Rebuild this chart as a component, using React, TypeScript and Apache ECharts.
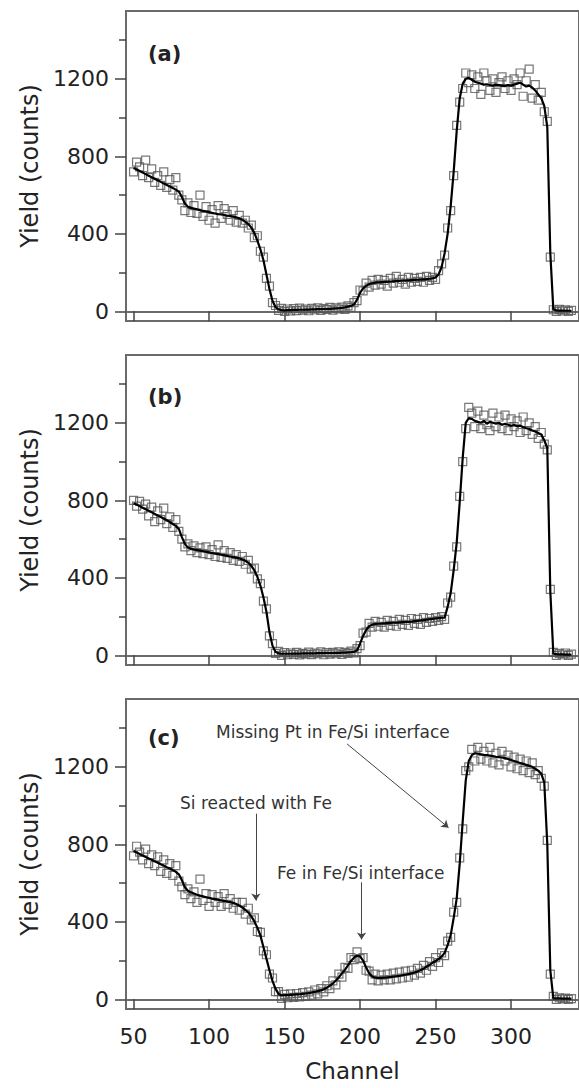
import React, { useEffect, useRef } from "react";
import * as echarts from "echarts";

// Channel numbers (x values)
const channels = [
  50, 52, 54, 56, 58, 60, 62, 64, 66, 68,
  70, 72, 74, 76, 78, 80, 82, 84, 86, 88,
  90, 92, 94, 96, 98, 100, 102, 104, 106, 108,
  110, 112, 114, 116, 118, 120, 122, 124, 126, 128,
  130, 132, 134, 136, 138, 140, 142, 144, 146, 148,
  150, 152, 154, 156, 158, 160, 162, 164, 166, 168,
  170, 172, 174, 176, 178, 180, 182, 184, 186, 188,
  190, 192, 194, 196, 198, 200, 202, 204, 206, 208,
  210, 212, 214, 216, 218, 220, 222, 224, 226, 228,
  230, 232, 234, 236, 238, 240, 242, 244, 246, 248,
  250, 252, 254, 256, 258, 260, 262, 264, 266, 268,
  270, 272, 274, 276, 278, 280, 282, 284, 286, 288,
  290, 292, 294, 296, 298, 300, 302, 304, 306, 308,
  310, 312, 314, 316, 318, 320, 322, 324, 326, 328,
  330, 332, 334, 336, 338, 340,
];

// Panel (a)
const fitA = [
  740, 732, 724, 716, 708, 700, 692, 684, 676, 668,
  660, 652, 644, 636, 628, 618, 590, 556, 540, 534,
  530, 526, 522, 518, 515, 512, 508, 505, 502, 500,
  497, 494, 492, 489, 485, 480, 472, 462, 450, 432,
  405, 365, 320, 265, 190, 115, 55, 22, 10, 6,
  5, 6, 6, 7, 7, 8, 8, 9, 9, 10,
  10, 11, 11, 12, 12, 13, 14, 15, 16, 18,
  20, 24, 28, 35, 60, 95, 118, 132, 140, 145,
  148, 150, 151, 152, 153, 154, 155, 156, 157, 158,
  159, 160, 161, 162, 163, 164, 165, 166, 168, 170,
  175, 190, 228, 300, 400, 540, 720, 930, 1100, 1175,
  1200, 1205, 1195, 1185, 1180, 1175, 1170, 1172, 1168, 1165,
  1170, 1168, 1165, 1162, 1168, 1165, 1170, 1175, 1180, 1170,
  1160, 1165, 1155, 1140, 1120, 1100, 1060, 950, 300, 10,
  5, 4, 4, 3, 3, 3,
];
const dataA = [
  720, 770, 745, 700, 780, 690, 735, 665, 700, 650,
  720, 640, 680, 625, 690, 600, 575, 520, 560, 510,
  545, 505, 600, 490, 540, 470, 525, 455, 545, 480,
  530, 500, 470, 520, 460, 495, 455, 470, 430, 445,
  380, 390, 310, 280, 170, 130, 45, 30, 5, 15,
  0, 12, 2, 14, 4, 16, 6, 12, 3, 15,
  8, 18, 5, 14, 10, 20, 6, 18, 12, 22,
  10, 28, 20, 45, 55, 110, 105, 145, 125, 160,
  135, 165, 140, 160, 130, 170, 145, 180, 150, 165,
  140, 175, 150, 170, 155, 175, 150, 180, 160, 175,
  165, 210, 245, 290, 430, 520, 700, 960, 1080, 1150,
  1230, 1180, 1220, 1150, 1210, 1120, 1230, 1190, 1140, 1200,
  1130, 1180, 1210, 1150, 1190, 1140, 1200, 1170, 1230, 1110,
  1190, 1250, 1100, 1170, 1090, 1130, 1030, 980, 280, 8,
  0, 10, 2, 8, 0, 5,
];

// Panel (b)
const fitB = [
  785, 778, 770, 762, 754, 746, 738, 730, 722, 714,
  706, 697, 688, 678, 668, 652, 610, 575, 556, 550,
  546, 543, 540, 537, 534, 531, 528, 525, 522, 519,
  516, 513, 510, 507, 504, 500, 495, 488, 478, 462,
  438, 405, 360, 300, 225, 120, 50, 18, 10, 8,
  8, 8, 8, 9, 9, 9, 10, 10, 10, 10,
  10, 11, 11, 11, 12, 12, 12, 13, 13, 14,
  14, 15, 16, 18, 25, 60, 100, 130, 150, 158,
  162, 163, 164, 165, 166, 167, 168, 169, 170, 171,
  172, 173, 174, 176, 178, 180, 182, 184, 186, 188,
  190, 192, 194, 195, 250, 320, 440, 580, 790, 1020,
  1200, 1225, 1220, 1210, 1205, 1200, 1210, 1195, 1205, 1200,
  1195, 1200, 1190, 1195, 1190, 1185, 1188, 1182, 1185, 1178,
  1172, 1168, 1160, 1155, 1148, 1140, 1110, 1070, 330, 8,
  6, 5, 5, 4, 4, 4,
];
const dataB = [
  800, 770, 795, 755, 780, 720, 765, 690, 745, 700,
  760, 680, 715, 660, 700, 640, 600, 560, 575, 540,
  565, 530, 555, 525, 560, 520, 545, 510, 570, 505,
  540, 500, 530, 490, 520, 485, 510, 470, 490, 445,
  450, 395, 370, 280, 240, 100, 60, 10, 20, 0,
  14, 3, 12, 5, 15, 2, 10, 6, 16, 4,
  12, 8, 18, 3, 14, 6, 15, 8, 18, 5,
  15, 10, 22, 12, 35, 50, 115, 120, 165, 145,
  175, 150, 170, 145, 180, 155, 175, 150, 185, 160,
  180, 155, 190, 165, 185, 160, 195, 170, 190, 175,
  195, 180, 200, 185, 270, 300, 460, 560, 820, 1000,
  1170, 1280, 1250, 1180, 1260, 1170, 1240, 1190, 1160, 1250,
  1180, 1230, 1170, 1240, 1160, 1220, 1180, 1210, 1150, 1230,
  1160, 1200, 1140, 1180, 1120, 1150, 1090, 1060, 340, 15,
  0, 10, 3, 12, 0, 6,
];

// Panel (c)
const fitC = [
  765, 758, 750, 742, 734, 727, 720, 712, 705, 697,
  690, 682, 675, 667, 658, 645, 615, 578, 560, 552,
  546, 540, 535, 531, 527, 524, 520, 517, 514, 511,
  508, 505, 502, 498, 492, 484, 474, 462, 448, 428,
  402, 370, 330, 270, 210, 150, 95, 55, 28, 20,
  22, 22, 23, 24, 25, 26, 28, 30, 32, 35,
  38, 42, 46, 52, 60, 70, 82, 97, 114, 134,
  152, 175, 198, 215, 225, 222, 200, 165, 135, 118,
  112, 110, 111, 112, 113, 115, 117, 119, 121, 124,
  127, 130, 134, 138, 143, 150, 158, 168, 178, 188,
  198, 208, 220, 240, 280, 330, 420, 520, 700, 920,
  1130, 1230, 1260, 1270, 1268, 1265, 1262, 1260, 1258, 1255,
  1252, 1250, 1248, 1245, 1240, 1235, 1230, 1225, 1220, 1215,
  1210, 1205, 1200, 1190, 1180, 1165, 1120, 800, 150, 5,
  5, 5, 4, 4, 4, 4,
];
const dataC = [
  740, 790, 760, 720, 775, 700, 745, 690, 735, 660,
  720, 650, 700, 640, 690, 610, 580, 540, 570, 520,
  555, 500, 620, 510, 545, 480, 540, 500, 530, 480,
  545, 490, 520, 470, 500, 460, 500, 440, 470, 410,
  420, 350, 345, 250, 230, 130, 110, 40, 40, 5,
  25, 8, 28, 10, 30, 12, 35, 15, 38, 22,
  48, 28, 55, 38, 70, 55, 95, 75, 130, 115,
  165, 160, 215, 205, 245, 210, 215, 150, 145, 100,
  130, 95, 125, 100, 130, 100, 135, 105, 140, 110,
  145, 115, 150, 125, 160, 135, 175, 150, 195, 170,
  215, 190, 240, 225, 300, 320, 450, 500, 730, 880,
  1180, 1200, 1290, 1230, 1300, 1240, 1280, 1230, 1300, 1220,
  1270, 1210, 1280, 1230, 1260, 1200, 1250, 1190, 1240, 1180,
  1230, 1170, 1220, 1160, 1180, 1140, 1100, 820, 130, 15,
  0, 8, 2, 6, 0, 4,
];

const xTickValues = [50, 100, 150, 200, 250, 300];
const yMajorTicks = [0, 400, 800, 1200];
const yMinorTicks = [200, 600, 1000, 1400];
const panelLabels = ["(a)", "(b)", "(c)"];

// Annotation arrows in panel (c): [fromChannel, fromYield, toChannel, toYield]
const arrows = [
  [191.4, 1318, 258.6, 886],
  [131, 958, 131, 510],
  [201, 604, 201, 309],
];
const annotationTexts = [
  "Missing Pt in Fe/Si interface",
  "Si reacted with Fe",
  "Fe in Fe/Si interface",
];

const FONT = "DejaVu Sans";
const AXIS_COLOR = "#6a6a6a";
const TICK_COLOR = "#444";
const TEXT_COLOR = "#222";

export default function App() {
  const ref = useRef<HTMLDivElement>(null);

  useEffect(() => {
    if (!ref.current) return;
    const chart = echarts.init(ref.current, undefined, { renderer: "svg" });

    const fits = [fitA, fitB, fitC];
    const datas = [dataA, dataB, dataC];
    const tops = [11, 355, 699];
    const gridH = 310;

    const grids = tops.map((t) => ({
      left: 126,
      right: -3,
      top: t,
      height: gridH,
      show: true,
      borderColor: AXIS_COLOR,
      borderWidth: 2,
      backgroundColor: "transparent",
    }));

    const xAxes = tops.map((_, i) => ({
      type: "value",
      gridIndex: i,
      min: 45,
      max: 345,
      name: i === 2 ? "Channel" : "",
      nameLocation: "middle",
      nameGap: 50,
      nameTextStyle: { fontFamily: FONT, fontSize: 23, color: TEXT_COLOR },
      axisLine: { show: true, lineStyle: { color: AXIS_COLOR, width: 2 } },
      axisTick: {
        show: true,
        customValues: xTickValues,
        length: 10,
        inside: false,
        lineStyle: { color: TICK_COLOR, width: 1.5 },
      },
      axisLabel: {
        show: i === 2,
        customValues: xTickValues,
        formatter: (v: number) => String(v),
        fontFamily: FONT,
        fontSize: 22,
        color: TEXT_COLOR,
        margin: 16,
      },
      splitLine: { show: false },
    }));

    const yAxes: any[] = [];
    tops.forEach((_, i) => {
      yAxes.push({
        type: "value",
        gridIndex: i,
        min: -50,
        max: 1550,
        position: "left",
        name: "Yield (counts)",
        nameLocation: "middle",
        nameGap: 84,
        nameTextStyle: { fontFamily: FONT, fontSize: 24, color: TEXT_COLOR },
        axisLine: { show: true, lineStyle: { color: AXIS_COLOR, width: 2 } },
        axisTick: {
          show: true,
          customValues: yMajorTicks,
          length: 11,
          lineStyle: { color: TICK_COLOR, width: 1.5 },
        },
        axisLabel: {
          show: true,
          customValues: yMajorTicks,
          formatter: (v: number) => String(v),
          fontFamily: FONT,
          fontSize: 22,
          color: TEXT_COLOR,
          margin: 17,
        },
        splitLine: { show: false },
      });
      yAxes.push({
        type: "value",
        gridIndex: i,
        min: -50,
        max: 1550,
        position: "left",
        axisLine: { show: false },
        axisTick: {
          show: true,
          customValues: yMinorTicks,
          length: 7,
          lineStyle: { color: TICK_COLOR, width: 1.5 },
        },
        axisLabel: { show: false },
        splitLine: { show: false },
      });
    });

    const series: any[] = [];
    tops.forEach((_, i) => {
      series.push({
        type: "scatter",
        xAxisIndex: i,
        yAxisIndex: i * 2,
        symbol: "rect",
        symbolSize: 8,
        itemStyle: { color: "transparent", borderColor: "#555", borderWidth: 1.2 },
        data: channels.map((c, k) => [c, datas[i][k]]),
        z: 2,
        silent: true,
      });
      const lineSeries: any = {
        type: "line",
        xAxisIndex: i,
        yAxisIndex: i * 2,
        showSymbol: false,
        symbol: "none",
        lineStyle: { color: "#000", width: 2.2 },
        data: channels.map((c, k) => [c, fits[i][k]]),
        z: 3,
        silent: true,
      };
      if (i === 2) {
        lineSeries.markLine = {
          silent: true,
          symbol: ["none", "arrow"],
          symbolSize: 7,
          label: { show: false },
          lineStyle: { color: "#444", width: 1, type: "solid" },
          data: arrows.map((a) => [
            { coord: [a[0], a[1]] },
            { coord: [a[2], a[3]] },
          ]),
        };
      }
      series.push(lineSeries);
    });

    const labelPos = [
      [148, 54],
      [148, 397],
      [148, 738],
    ];
    const annPos = [
      [216, 732],
      [180, 803],
      [277, 873],
    ];

    const graphic: any[] = [];
    panelLabels.forEach((t, i) => {
      graphic.push({
        type: "text",
        x: labelPos[i][0],
        y: labelPos[i][1],
        style: {
          text: t,
          font: `bold 21px "${FONT}"`,
          fill: TEXT_COLOR,
          align: "left",
          verticalAlign: "middle",
        },
      });
    });
    annotationTexts.forEach((t, i) => {
      graphic.push({
        type: "text",
        x: annPos[i][0],
        y: annPos[i][1],
        style: {
          text: t,
          font: `17px "${FONT}"`,
          fill: "#333",
          align: "left",
          verticalAlign: "middle",
        },
      });
    });

    chart.setOption({
      animation: false,
      backgroundColor: "#fff",
      grid: grids,
      xAxis: xAxes,
      yAxis: yAxes,
      series,
      graphic,
    });

    return () => chart.dispose();
  }, []);

  return (
    <div
      ref={ref}
      style={{ position: "fixed", left: 0, top: 0, width: 579, height: 1088 }}
    />
  );
}
